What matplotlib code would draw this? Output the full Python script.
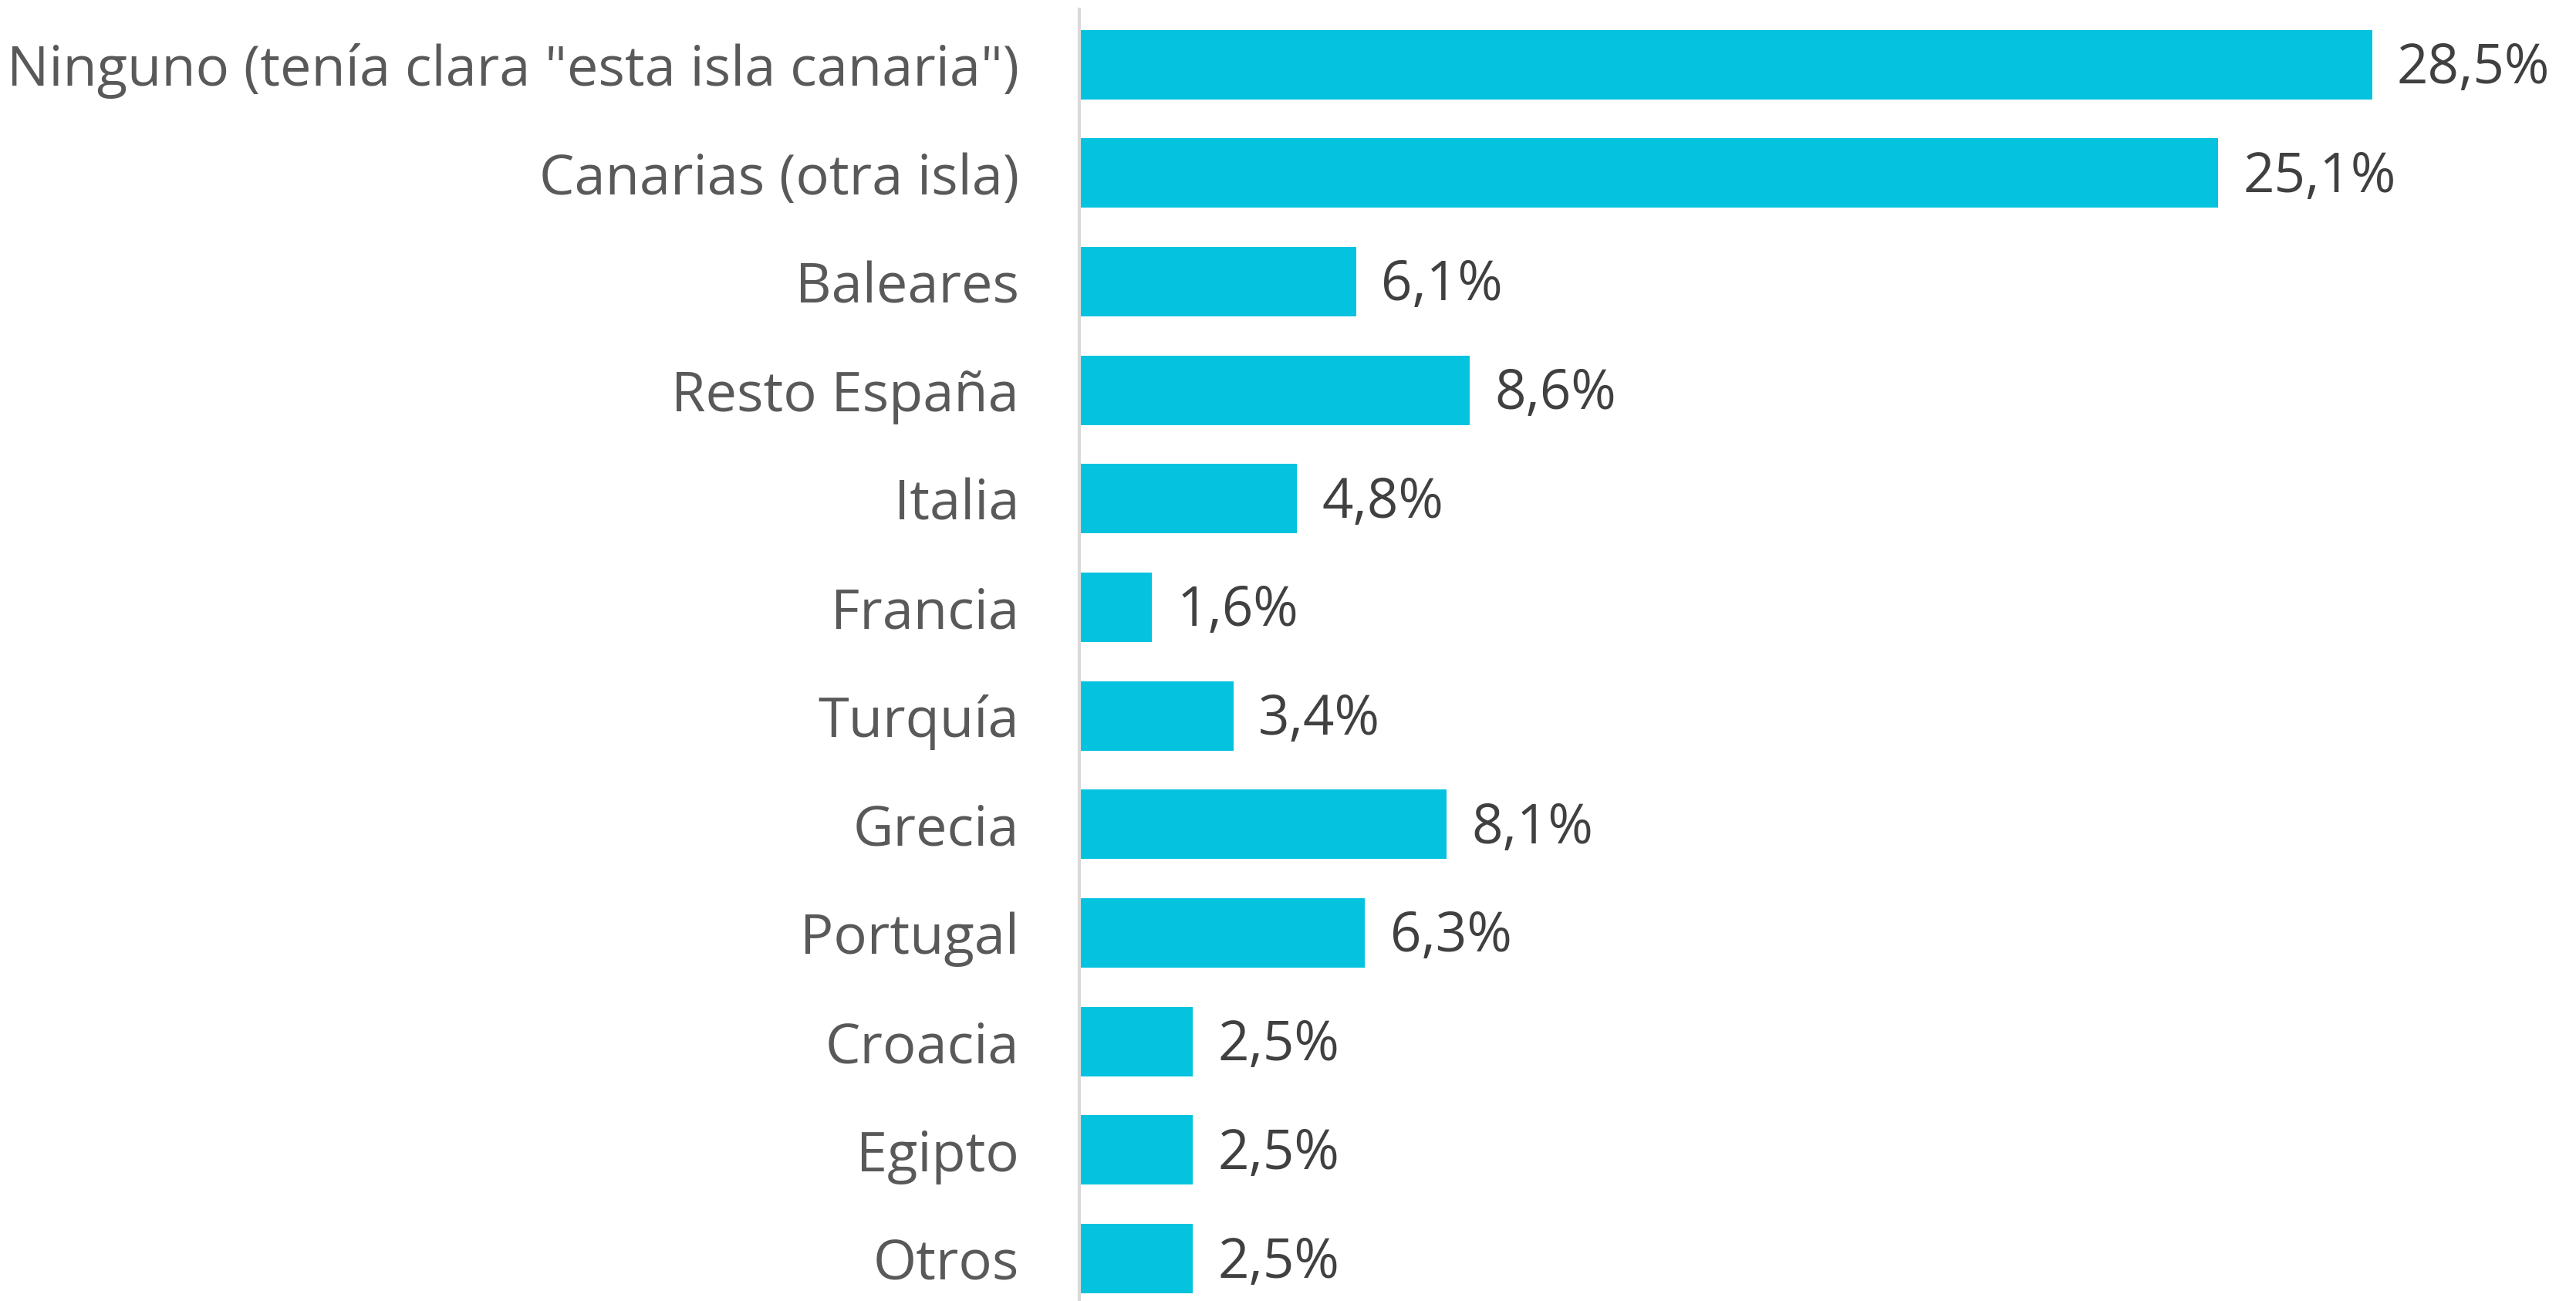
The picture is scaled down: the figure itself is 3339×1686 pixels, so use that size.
import matplotlib.pyplot as plt

categories = ['Ninguno (tenía clara "esta isla canaria")', 'Canarias (otra isla)', 'Baleares',
              'Resto España', 'Italia', 'Francia', 'Turquía', 'Grecia', 'Portugal',
              'Croacia', 'Egipto', 'Otros']
values = [28.5, 25.1, 6.1, 8.6, 4.8, 1.6, 3.4, 8.1, 6.3, 2.5, 2.5, 2.5]
value_labels = ['28,5%', '25,1%', '6,1%', '8,6%', '4,8%', '1,6%', '3,4%', '8,1%',
                '6,3%', '2,5%', '2,5%', '2,5%']

plt.rcParams['font.family'] = ['Open Sans', 'DejaVu Sans']

fig = plt.figure(figsize=(33.39, 16.86), dpi=100)
ax = fig.add_axes([1399 / 3339, 0.0, 0.53, 1 - 12 / 1686])

y = list(range(len(categories)))
ax.barh(y, values, height=0.64, color='#05C3DE')

for yi, v, lab in zip(y, values, value_labels):
    ax.text(v + 0.55, yi + 0.04, lab, va='center', ha='left', fontsize=51, color='#404040')

ax.set_yticks(y)
ax.set_yticklabels(categories, fontsize=52, color='#595959')
ax.tick_params(axis='y', length=0, pad=56)
ax.set_xticks([])
ax.set_xlim(0, 30.1)
ax.set_ylim(11.39, -0.51)

for s in ['top', 'right', 'bottom']:
    ax.spines[s].set_visible(False)
ax.spines['left'].set_color('#D9D9D9')
ax.spines['left'].set_linewidth(3)

fig.savefig('out.png', dpi=100)
